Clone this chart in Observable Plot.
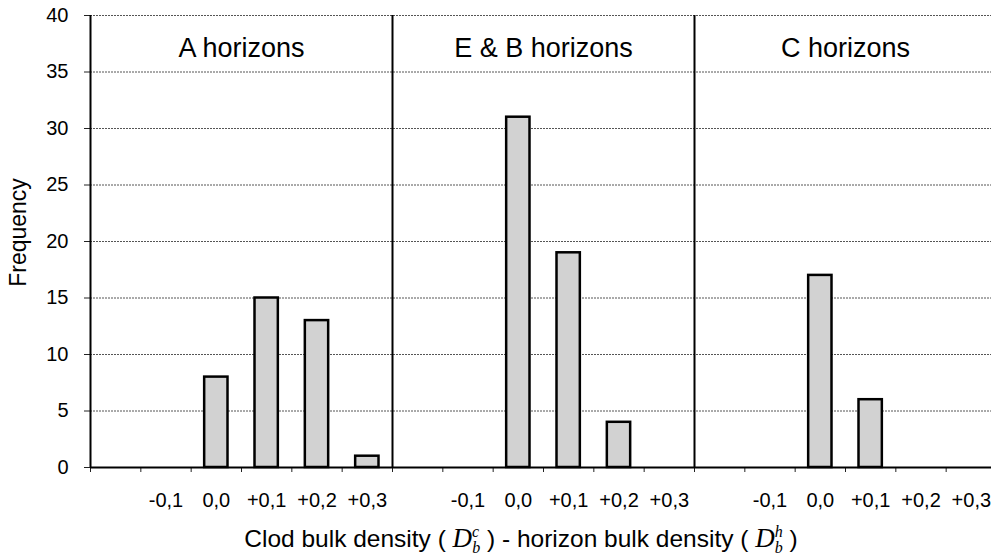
<!DOCTYPE html>
<html>
<head>
<meta charset="utf-8">
<script src="https://cdn.jsdelivr.net/npm/d3@7"></script>
<script src="https://cdn.jsdelivr.net/npm/@observablehq/plot@0.6"></script>
<style>
  body { margin: 0; background: #fff; }
  #chart svg { display: block; }
</style>
</head>
<body>
<div id="chart"></div>
<script>
// ---- data ----
const categories = ["-0,1", "0,0", "+0,1", "+0,2", "+0,3"];
const horizons = ["A horizons", "E & B horizons", "C horizons"];
const freqA  = [0, 8, 15, 13, 1];
const freqEB = [0, 31, 19, 4, 0];
const freqC  = [0, 17, 6, 0, 0];
const yTicks = [0, 5, 10, 15, 20, 25, 30, 35, 40];

const series = [freqA, freqEB, freqC];
const slots = categories.length + 1; // empty leading slot in each panel
const rows = horizons.flatMap((h, p) =>
  categories.map((c, i) => ({ horizon: h, cat: c, pos: p * slots + i + 1, value: series[p][i] }))
);
const boundaries = d3.range(0, horizons.length * slots + 1);
const dividers = d3.range(0, horizons.length).map(p => p * slots);

const font = "'Liberation Sans', Arial, Helvetica, sans-serif";
const serif = "'Liberation Serif', 'Times New Roman', serif";

const plot = Plot.plot({
  width: 991,
  height: 560,
  marginLeft: 90,
  marginRight: -5,
  marginTop: 15,
  marginBottom: 93,
  style: { fontFamily: font, fontSize: "20px", color: "#000", background: "#fff", overflow: "visible" },
  x: { domain: [0, horizons.length * slots], axis: null },
  y: { domain: [0, 40], axis: null },
  marks: [
    Plot.ruleY(yTicks.filter(d => d > 0), { stroke: "#555", strokeWidth: 1, strokeDasharray: "2,1" }),
    Plot.axisY({ ticks: yTicks, tickSize: 6, tickPadding: 16, label: null, fontSize: 20, stroke: "#222" }),
    Plot.axisX({ ticks: boundaries, tickSize: 5, tickFormat: () => "", label: null, stroke: "#222" }),
    Plot.rectY(rows.filter(d => d.value > 0), {
      x1: "pos", x2: d => d.pos + 1, y: "value",
      insetLeft: 13.5, insetRight: 13.5,
      fill: "#d2d2d2", stroke: "#000", strokeWidth: 2.5
    }),
    Plot.ruleX(dividers, { y1: 0, y2: 40, stroke: "#000", strokeWidth: 2 }),
    Plot.ruleY([0], { stroke: "#000", strokeWidth: 2 }),
    Plot.text(rows, { x: d => d.pos + 0.5, y: 0, text: "cat", dy: 33, lineAnchor: "middle", fontSize: 20 }),
    Plot.text(horizons, { x: (d, i) => i * slots + slots / 2, y: 40, text: d => d, dy: 33, lineAnchor: "middle", fontSize: 27 }),
    Plot.text(["Frequency"], { text: d => d, frameAnchor: "left", textAnchor: "middle", rotate: -90, dx: -72, dy: -9, lineAnchor: "middle", fontSize: 23 })
  ]
});

// x-axis title with sub/superscripts
const svg = d3.select(plot);
const t = svg.append("text")
  .attr("x", 521).attr("y", 547)
  .attr("text-anchor", "middle")
  .attr("font-family", font)
  .attr("font-size", 24.5)
  .attr("fill", "#000");
function symbol(sup) {
  t.append("tspan").attr("font-family", serif).attr("font-style", "italic").attr("font-size", 27).text("D");
  t.append("tspan").attr("font-family", serif).attr("font-style", "italic").attr("font-size", 16).attr("dy", -10).text(sup);
  t.append("tspan").attr("font-family", serif).attr("font-style", "italic").attr("font-size", 16).attr("dx", sup === "c" ? -7 : -8).attr("dy", 16).text("b");
  t.append("tspan").attr("dy", -6).text("\u00a0)");
}
t.append("tspan").text("Clod bulk density (\u00a0");
symbol("c");
t.append("tspan").text("\u00a0- horizon bulk density (\u00a0");
symbol("h");

document.getElementById("chart").appendChild(plot);
</script>
</body>
</html>
